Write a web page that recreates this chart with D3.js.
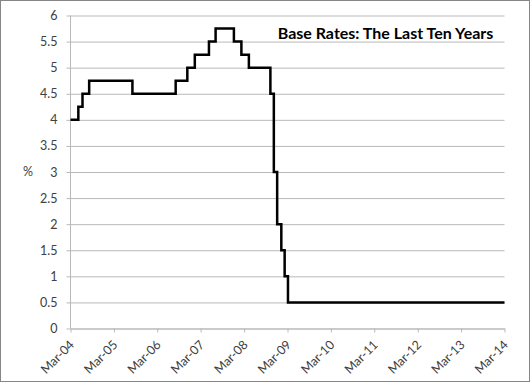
<!DOCTYPE html>
<html>
<head>
<meta charset="utf-8">
<script src="https://cdn.jsdelivr.net/npm/d3@7"></script>
<style>
  body { margin: 0; background: #fff; }
  svg { display: block; }
</style>
</head>
<body>
<svg id="chart" width="531" height="385"></svg>
<script>
// Data: Bank of England base rate changes (date of change, new rate %)
const changeDates = ["2004-03-01","2004-05-06","2004-06-10","2004-08-05","2005-08-04","2006-08-03","2006-11-09","2007-01-11","2007-05-10","2007-07-05","2007-12-06","2008-02-07","2008-04-10","2008-10-08","2008-11-06","2008-12-04","2009-01-08","2009-02-05","2009-03-05","2014-03-01"];
const rates = [4.0,4.25,4.5,4.75,4.5,4.75,5.0,5.25,5.5,5.75,5.5,5.25,5.0,4.5,3.0,2.0,1.5,1.0,0.5,0.5];
const yTicks = [0,0.5,1,1.5,2,2.5,3,3.5,4,4.5,5,5.5,6];
const xTickLabels = ["Mar-04","Mar-05","Mar-06","Mar-07","Mar-08","Mar-09","Mar-10","Mar-11","Mar-12","Mar-13","Mar-14"];
const title = "Base Rates: The Last Ten Years";
const yLabel = "%";

const parse = d3.timeParse("%Y-%m-%d");
const data = changeDates.map((d, i) => ({ date: parse(d), rate: rates[i] }));
const xTickDates = xTickLabels.map((l, i) => new Date(2004 + i, 2, 1));

const svg = d3.select("#chart");
const W = 531, H = 385;
const mLeft = 70.5, mRight = 504.5, mTop = 15.5, mBottom = 328.5;

// outer border
svg.append("rect").attr("x", 0.5).attr("y", 0.5).attr("width", W - 2).attr("height", H - 4)
  .attr("fill", "#fff").attr("stroke", "#868686").attr("stroke-width", 1);

const x = d3.scaleTime().domain([xTickDates[0], xTickDates[xTickDates.length - 1]]).range([mLeft, mRight]);
const y = d3.scaleLinear().domain([0, 6]).range([mBottom, mTop]);

const fontFam = "Lato, 'Liberation Sans', sans-serif";

// gridlines + y axis
const yAxis = d3.axisLeft(y).tickValues(yTicks).tickSize(mRight - mLeft + 4).tickSizeOuter(0)
  .tickFormat(d => d3.format("")(d)).tickPadding(9);
const gy = svg.append("g").attr("transform", `translate(${mRight},0)`).call(yAxis);
gy.select(".domain").remove();
gy.selectAll(".tick line").attr("stroke", "#b9b9b9").attr("stroke-width", 1);
gy.selectAll(".tick text").attr("fill", "#404040").style("font-family", fontFam).style("font-size", "12.5px");

// y axis line
svg.append("line").attr("x1", mLeft).attr("x2", mLeft).attr("y1", mTop).attr("y2", mBottom)
  .attr("stroke", "#b9b9b9").attr("stroke-width", 1);

// x axis
const xAxis = d3.axisBottom(x).tickValues(xTickDates).tickSize(4).tickSizeOuter(0)
  .tickFormat((d, i) => xTickLabels[i]);
const gx = svg.append("g").attr("transform", `translate(0,${mBottom})`).call(xAxis);
gx.select(".domain").attr("stroke", "#b9b9b9");
gx.selectAll(".tick line").attr("stroke", "#b9b9b9");
gx.selectAll(".tick text")
  .attr("fill", "#404040")
  .style("font-family", fontFam).style("font-size", "12.5px")
  .attr("text-anchor", "end")
  .attr("x", 0).attr("y", 0).attr("dy", "0")
  .attr("transform", "translate(4,17) rotate(-45)");

// line
const line = d3.line().x(d => x(d.date)).y(d => y(d.rate)).curve(d3.curveStepAfter);
svg.append("path").datum(data).attr("d", line)
  .attr("fill", "none").attr("stroke", "#000").attr("stroke-width", 2.5).attr("stroke-linejoin", "miter");

// y label
svg.append("text").attr("x", 28).attr("y", 176).attr("text-anchor", "middle")
  .attr("fill", "#404040").style("font-family", fontFam).style("font-size", "12.5px")
  .text(yLabel);

// title
svg.append("text").attr("x", 385.5).attr("y", 39).attr("text-anchor", "middle")
  .attr("fill", "#000").style("font-family", fontFam).style("font-size", "16px")
  .style("font-weight", "bold").text(title);
</script>
</body>
</html>
